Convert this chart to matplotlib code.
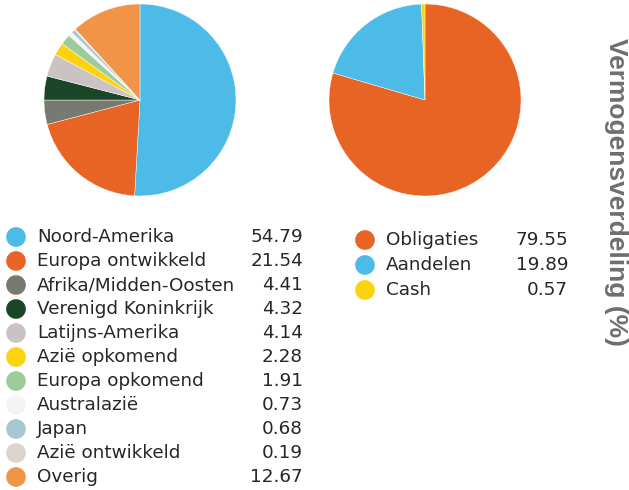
import matplotlib
matplotlib.use('Agg')
import matplotlib.pyplot as plt

# --- datos ---
regio_labels = ['Noord-Amerika', 'Europa ontwikkeld', 'Afrika/Midden-Oosten',
                'Verenigd Koninkrijk', 'Latijns-Amerika', 'Azië opkomend',
                'Europa opkomend', 'Australazië', 'Japan', 'Azië ontwikkeld', 'Overig']
regio_values = [54.79, 21.54, 4.41, 4.32, 4.14, 2.28, 1.91, 0.73, 0.68, 0.19, 12.67]
regio_colors = ['#4dbbe8', '#e86424', '#777a70', '#1a4526', '#cbc2c4', '#fdd20e',
                '#9ccc9c', '#f4f4f4', '#a9c7d2', '#dbd5cc', '#f29448']

klasse_labels = ['Obligaties', 'Aandelen', 'Cash']
klasse_values = [79.55, 19.89, 0.57]
klasse_colors = ['#e86424', '#4dbbe8', '#fdd20e']

titel = 'Vermogensverdeling (%)'

W, H = 629, 490
fig = plt.figure(figsize=(W / 100, H / 100), dpi=100)
fig.patch.set_facecolor('white')

def px_axes(x, y, w, h):
    # caja en pixeles (origen arriba a la izquierda)
    return fig.add_axes([x / W, 1 - (y + h) / H, w / W, h / H])

# --- tartas ---
for (cx, cy), vals, cols in [((140, 100), regio_values, regio_colors),
                              ((425, 100), klasse_values, klasse_colors)]:
    ax = px_axes(cx - 96, cy - 96, 192, 192)
    ax.pie(vals, colors=cols, startangle=90, counterclock=False, radius=1,
           wedgeprops=dict(linewidth=0.3, edgecolor='white'))
    ax.set_xlim(-1, 1); ax.set_ylim(-1, 1)
    ax.set_aspect('equal')
    ax.axis('off')

# --- leyendas ---
lg = px_axes(0, 0, W, H)
lg.set_xlim(0, W); lg.set_ylim(H, 0)
lg.axis('off')

txt_kw = dict(fontsize=13.2, color='#2a2627', va='center', family='DejaVu Sans')

y0, dy = 237, 24.0
for i, (lab, val, col) in enumerate(zip(regio_labels, regio_values, regio_colors)):
    y = y0 + i * dy
    lg.scatter(16, y, s=200, color=col, edgecolors='none')
    lg.text(37, y, lab, ha='left', **txt_kw)
    lg.text(303, y, f'{val:.2f}', ha='right', **txt_kw)

y0, dy = 240, 25.0
for i, (lab, val, col) in enumerate(zip(klasse_labels, klasse_values, klasse_colors)):
    y = y0 + i * dy
    lg.scatter(365, y, s=200, color=col, edgecolors='none')
    lg.text(386, y, lab, ha='left', **txt_kw)
    lg.text(568, y, f'{val:.2f}', ha='right', **txt_kw)

fig.text(616 / W, 1 - 192 / H, titel, rotation=270, ha='center', va='center',
         fontsize=19, fontweight='bold', color='#6d6e70', family='Liberation Sans')

fig.savefig('out.png', dpi=100, facecolor='white')
